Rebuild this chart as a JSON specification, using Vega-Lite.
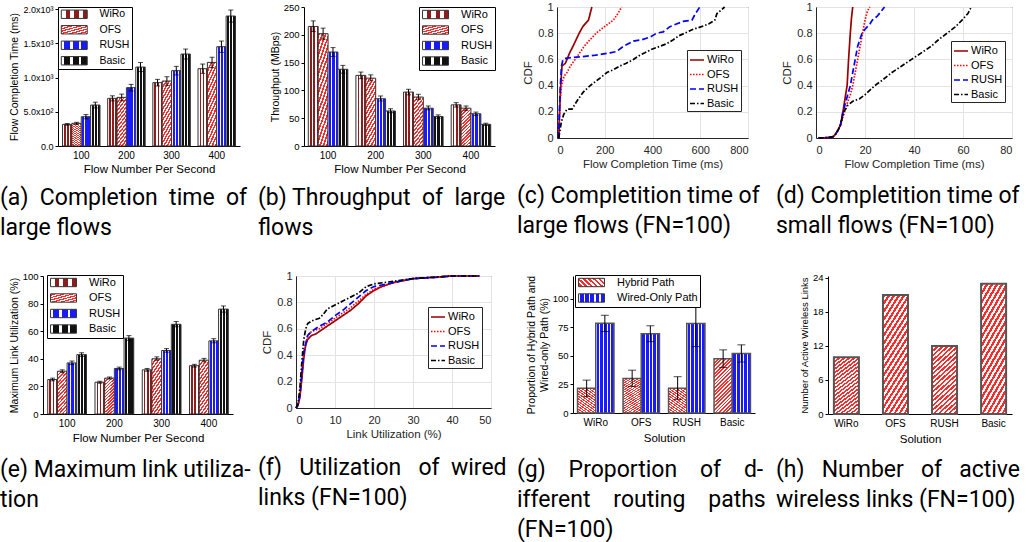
{
"$schema": "https://vega.github.io/schema/vega-lite/v6.json",
"padding": 0,
"config": {
  "view": {"stroke": null},
  "font": "Liberation Sans",
  "axis": {"labelFont": "Liberation Sans", "titleFont": "Liberation Sans", "labelColor": "#000", "titleColor": "#000", "domainColor": "#000", "tickColor": "#000", "titleFontWeight": "normal", "labelFontSize": 9.5, "titleFontSize": 10.5, "tickSize": 3, "labelPadding": 2, "titlePadding": 3, "grid": false, "labelOverlap": false},
  "legend": {"labelFont": "Liberation Sans", "labelColor": "#000"},
  "title": {"font": "Roboto", "fontSize": 23, "fontWeight": "normal", "color": "#000", "anchor": "start", "frame": "group", "orient": "bottom", "baseline": "top", "lineHeight": 30}
},
"params": [
  {"name": "gW", "value": {"gradient": "linear", "x1": 0, "y1": 0, "x2": 1, "y2": 0, "stops": [
    {"offset": 0, "color": "#ffffff"}, {"offset": 0.17, "color": "#ffffff"}, {"offset": 0.17, "color": "#8b1d1d"}, {"offset": 0.333, "color": "#8b1d1d"},
    {"offset": 0.333, "color": "#ffffff"}, {"offset": 0.5, "color": "#ffffff"}, {"offset": 0.5, "color": "#8b1d1d"}, {"offset": 0.667, "color": "#8b1d1d"},
    {"offset": 0.667, "color": "#ffffff"}, {"offset": 0.833, "color": "#ffffff"}, {"offset": 0.833, "color": "#8b1d1d"}, {"offset": 1, "color": "#8b1d1d"}]}},
  {"name": "gR", "value": {"gradient": "linear", "x1": 0, "y1": 0, "x2": 1, "y2": 0, "stops": [
    {"offset": 0, "color": "#ffffff"}, {"offset": 0.1, "color": "#ffffff"}, {"offset": 0.1, "color": "#1a1aff"}, {"offset": 0.333, "color": "#1a1aff"},
    {"offset": 0.333, "color": "#ffffff"}, {"offset": 0.433, "color": "#ffffff"}, {"offset": 0.433, "color": "#1a1aff"}, {"offset": 0.667, "color": "#1a1aff"},
    {"offset": 0.667, "color": "#ffffff"}, {"offset": 0.767, "color": "#ffffff"}, {"offset": 0.767, "color": "#1a1aff"}, {"offset": 1, "color": "#1a1aff"}]}},
  {"name": "gB", "value": {"gradient": "linear", "x1": 0, "y1": 0, "x2": 1, "y2": 0, "stops": [
    {"offset": 0, "color": "#ffffff"}, {"offset": 0.1, "color": "#ffffff"}, {"offset": 0.1, "color": "#111111"}, {"offset": 0.333, "color": "#111111"},
    {"offset": 0.333, "color": "#ffffff"}, {"offset": 0.433, "color": "#ffffff"}, {"offset": 0.433, "color": "#111111"}, {"offset": 0.667, "color": "#111111"},
    {"offset": 0.667, "color": "#ffffff"}, {"offset": 0.767, "color": "#ffffff"}, {"offset": 0.767, "color": "#111111"}, {"offset": 1, "color": "#111111"}]}},
  {"name": "gR2", "value": {"gradient": "linear", "x1": 0, "y1": 0, "x2": 1, "y2": 0, "stops": [
    {"offset": 0, "color": "#ffffff"}, {"offset": 0.06, "color": "#ffffff"}, {"offset": 0.06, "color": "#1a1aff"}, {"offset": 0.2, "color": "#1a1aff"},
    {"offset": 0.2, "color": "#ffffff"}, {"offset": 0.26, "color": "#ffffff"}, {"offset": 0.26, "color": "#1a1aff"}, {"offset": 0.4, "color": "#1a1aff"},
    {"offset": 0.4, "color": "#ffffff"}, {"offset": 0.46, "color": "#ffffff"}, {"offset": 0.46, "color": "#1a1aff"}, {"offset": 0.6, "color": "#1a1aff"},
    {"offset": 0.6, "color": "#ffffff"}, {"offset": 0.66, "color": "#ffffff"}, {"offset": 0.66, "color": "#1a1aff"}, {"offset": 0.8, "color": "#1a1aff"},
    {"offset": 0.8, "color": "#ffffff"}, {"offset": 0.86, "color": "#ffffff"}, {"offset": 0.86, "color": "#1a1aff"}, {"offset": 1, "color": "#1a1aff"}]}},
  {"name": "gO", "value": {"gradient": "linear", "x1": 0, "y1": 0, "x2": 1, "y2": 4, "stops": [
    {"offset": 0, "color": "#ff2a2a"}, {"offset": 0.01, "color": "#ff2a2a"}, {"offset": 0.01, "color": "#ffffff"}, {"offset": 0.02, "color": "#ffffff"},
    {"offset": 0.02, "color": "#ff2a2a"}, {"offset": 0.03, "color": "#ff2a2a"}, {"offset": 0.03, "color": "#ffffff"}, {"offset": 0.04, "color": "#ffffff"},
    {"offset": 0.04, "color": "#ff2a2a"}, {"offset": 0.05, "color": "#ff2a2a"}, {"offset": 0.05, "color": "#ffffff"}, {"offset": 0.06, "color": "#ffffff"},
    {"offset": 0.06, "color": "#ff2a2a"}, {"offset": 0.07, "color": "#ff2a2a"}, {"offset": 0.07, "color": "#ffffff"}, {"offset": 0.08, "color": "#ffffff"},
    {"offset": 0.08, "color": "#ff2a2a"}, {"offset": 0.09, "color": "#ff2a2a"}, {"offset": 0.09, "color": "#ffffff"}, {"offset": 0.1, "color": "#ffffff"},
    {"offset": 0.1, "color": "#ff2a2a"}, {"offset": 0.11, "color": "#ff2a2a"}, {"offset": 0.11, "color": "#ffffff"}, {"offset": 0.12, "color": "#ffffff"},
    {"offset": 0.12, "color": "#ff2a2a"}, {"offset": 0.13, "color": "#ff2a2a"}, {"offset": 0.13, "color": "#ffffff"}, {"offset": 0.14, "color": "#ffffff"},
    {"offset": 0.14, "color": "#ff2a2a"}, {"offset": 0.15, "color": "#ff2a2a"}, {"offset": 0.15, "color": "#ffffff"}, {"offset": 0.16, "color": "#ffffff"},
    {"offset": 0.16, "color": "#ff2a2a"}, {"offset": 0.17, "color": "#ff2a2a"}, {"offset": 0.17, "color": "#ffffff"}, {"offset": 0.18, "color": "#ffffff"},
    {"offset": 0.18, "color": "#ff2a2a"}, {"offset": 0.19, "color": "#ff2a2a"}, {"offset": 0.19, "color": "#ffffff"}, {"offset": 0.2, "color": "#ffffff"},
    {"offset": 0.2, "color": "#ff2a2a"}, {"offset": 0.21, "color": "#ff2a2a"}, {"offset": 0.21, "color": "#ffffff"}, {"offset": 0.22, "color": "#ffffff"},
    {"offset": 0.22, "color": "#ff2a2a"}, {"offset": 0.23, "color": "#ff2a2a"}, {"offset": 0.23, "color": "#ffffff"}, {"offset": 0.24, "color": "#ffffff"},
    {"offset": 0.24, "color": "#ff2a2a"}, {"offset": 0.25, "color": "#ff2a2a"}, {"offset": 0.25, "color": "#ffffff"}, {"offset": 0.26, "color": "#ffffff"},
    {"offset": 0.26, "color": "#ff2a2a"}, {"offset": 0.27, "color": "#ff2a2a"}, {"offset": 0.27, "color": "#ffffff"}, {"offset": 0.28, "color": "#ffffff"},
    {"offset": 0.28, "color": "#ff2a2a"}, {"offset": 0.29, "color": "#ff2a2a"}, {"offset": 0.29, "color": "#ffffff"}, {"offset": 0.3, "color": "#ffffff"}]}},
  {"name": "gO2", "value": {"gradient": "linear", "x1": 0, "y1": 0, "x2": 1, "y2": 3, "stops": [
    {"offset": 0, "color": "#ff2a2a"}, {"offset": 0.01, "color": "#ff2a2a"}, {"offset": 0.01, "color": "#ffffff"}, {"offset": 0.02, "color": "#ffffff"},
    {"offset": 0.02, "color": "#ff2a2a"}, {"offset": 0.03, "color": "#ff2a2a"}, {"offset": 0.03, "color": "#ffffff"}, {"offset": 0.04, "color": "#ffffff"},
    {"offset": 0.04, "color": "#ff2a2a"}, {"offset": 0.05, "color": "#ff2a2a"}, {"offset": 0.05, "color": "#ffffff"}, {"offset": 0.06, "color": "#ffffff"},
    {"offset": 0.06, "color": "#ff2a2a"}, {"offset": 0.07, "color": "#ff2a2a"}, {"offset": 0.07, "color": "#ffffff"}, {"offset": 0.08, "color": "#ffffff"},
    {"offset": 0.08, "color": "#ff2a2a"}, {"offset": 0.09, "color": "#ff2a2a"}, {"offset": 0.09, "color": "#ffffff"}, {"offset": 0.1, "color": "#ffffff"},
    {"offset": 0.1, "color": "#ff2a2a"}, {"offset": 0.11, "color": "#ff2a2a"}, {"offset": 0.11, "color": "#ffffff"}, {"offset": 0.12, "color": "#ffffff"},
    {"offset": 0.12, "color": "#ff2a2a"}, {"offset": 0.13, "color": "#ff2a2a"}, {"offset": 0.13, "color": "#ffffff"}, {"offset": 0.14, "color": "#ffffff"},
    {"offset": 0.14, "color": "#ff2a2a"}, {"offset": 0.15, "color": "#ff2a2a"}, {"offset": 0.15, "color": "#ffffff"}, {"offset": 0.16, "color": "#ffffff"},
    {"offset": 0.16, "color": "#ff2a2a"}, {"offset": 0.17, "color": "#ff2a2a"}, {"offset": 0.17, "color": "#ffffff"}, {"offset": 0.18, "color": "#ffffff"},
    {"offset": 0.18, "color": "#ff2a2a"}, {"offset": 0.19, "color": "#ff2a2a"}, {"offset": 0.19, "color": "#ffffff"}, {"offset": 0.2, "color": "#ffffff"},
    {"offset": 0.2, "color": "#ff2a2a"}, {"offset": 0.21, "color": "#ff2a2a"}, {"offset": 0.21, "color": "#ffffff"}, {"offset": 0.22, "color": "#ffffff"},
    {"offset": 0.22, "color": "#ff2a2a"}, {"offset": 0.23, "color": "#ff2a2a"}, {"offset": 0.23, "color": "#ffffff"}, {"offset": 0.24, "color": "#ffffff"},
    {"offset": 0.24, "color": "#ff2a2a"}, {"offset": 0.25, "color": "#ff2a2a"}, {"offset": 0.25, "color": "#ffffff"}, {"offset": 0.26, "color": "#ffffff"},
    {"offset": 0.26, "color": "#ff2a2a"}, {"offset": 0.27, "color": "#ff2a2a"}, {"offset": 0.27, "color": "#ffffff"}, {"offset": 0.28, "color": "#ffffff"},
    {"offset": 0.28, "color": "#ff2a2a"}, {"offset": 0.29, "color": "#ff2a2a"}, {"offset": 0.29, "color": "#ffffff"}, {"offset": 0.3, "color": "#ffffff"},
    {"offset": 0.3, "color": "#ff2a2a"}, {"offset": 0.31, "color": "#ff2a2a"}, {"offset": 0.31, "color": "#ffffff"}, {"offset": 0.32, "color": "#ffffff"},
    {"offset": 0.32, "color": "#ff2a2a"}, {"offset": 0.33, "color": "#ff2a2a"}, {"offset": 0.33, "color": "#ffffff"}, {"offset": 0.34, "color": "#ffffff"},
    {"offset": 0.34, "color": "#ff2a2a"}, {"offset": 0.35, "color": "#ff2a2a"}, {"offset": 0.35, "color": "#ffffff"}, {"offset": 0.36, "color": "#ffffff"},
    {"offset": 0.36, "color": "#ff2a2a"}, {"offset": 0.37, "color": "#ff2a2a"}, {"offset": 0.37, "color": "#ffffff"}, {"offset": 0.38, "color": "#ffffff"},
    {"offset": 0.38, "color": "#ff2a2a"}, {"offset": 0.39, "color": "#ff2a2a"}, {"offset": 0.39, "color": "#ffffff"}, {"offset": 0.4, "color": "#ffffff"}]}}
],
"datasets": {
  "fct": [
    {"g": "100", "s": "WiRo", "v": 316, "lo": 304, "hi": 328}, {"g": "100", "s": "OFS", "v": 331, "lo": 316, "hi": 346}, {"g": "100", "s": "RUSH", "v": 428, "lo": 397, "hi": 459}, {"g": "100", "s": "Basic", "v": 598, "lo": 555, "hi": 640},
    {"g": "200", "s": "WiRo", "v": 696, "lo": 659, "hi": 733}, {"g": "200", "s": "OFS", "v": 710, "lo": 662, "hi": 758}, {"g": "200", "s": "RUSH", "v": 852, "lo": 804, "hi": 900}, {"g": "200", "s": "Basic", "v": 1153, "lo": 1087, "hi": 1219},
    {"g": "300", "s": "WiRo", "v": 925, "lo": 877, "hi": 973}, {"g": "300", "s": "OFS", "v": 949, "lo": 886, "hi": 1012}, {"g": "300", "s": "RUSH", "v": 1100, "lo": 1037, "hi": 1163}, {"g": "300", "s": "Basic", "v": 1343, "lo": 1270, "hi": 1416},
    {"g": "400", "s": "WiRo", "v": 1129, "lo": 1061, "hi": 1197}, {"g": "400", "s": "OFS", "v": 1221, "lo": 1146, "hi": 1296}, {"g": "400", "s": "RUSH", "v": 1450, "lo": 1367, "hi": 1533}, {"g": "400", "s": "Basic", "v": 1898, "lo": 1810, "hi": 1986}
  ],
  "thr": [
    {"g": "100", "s": "WiRo", "v": 215, "lo": 206, "hi": 225}, {"g": "100", "s": "OFS", "v": 202, "lo": 192, "hi": 212}, {"g": "100", "s": "RUSH", "v": 169, "lo": 161, "hi": 177}, {"g": "100", "s": "Basic", "v": 138, "lo": 131, "hi": 145},
    {"g": "200", "s": "WiRo", "v": 127, "lo": 121, "hi": 133}, {"g": "200", "s": "OFS", "v": 122, "lo": 117, "hi": 128}, {"g": "200", "s": "RUSH", "v": 85, "lo": 81, "hi": 90}, {"g": "200", "s": "Basic", "v": 63, "lo": 60, "hi": 67},
    {"g": "300", "s": "WiRo", "v": 97, "lo": 92, "hi": 102}, {"g": "300", "s": "OFS", "v": 88, "lo": 84, "hi": 93}, {"g": "300", "s": "RUSH", "v": 68, "lo": 65, "hi": 72}, {"g": "300", "s": "Basic", "v": 53, "lo": 50, "hi": 56},
    {"g": "400", "s": "WiRo", "v": 74, "lo": 70, "hi": 78}, {"g": "400", "s": "OFS", "v": 68, "lo": 64, "hi": 72}, {"g": "400", "s": "RUSH", "v": 58, "lo": 55, "hi": 61}, {"g": "400", "s": "Basic", "v": 39, "lo": 37, "hi": 41}
  ],
  "mlu": [
    {"g": "100", "s": "WiRo", "v": 25, "lo": 24, "hi": 26}, {"g": "100", "s": "OFS", "v": 31, "lo": 30, "hi": 32}, {"g": "100", "s": "RUSH", "v": 37, "lo": 35.8, "hi": 38.4}, {"g": "100", "s": "Basic", "v": 43, "lo": 41.8, "hi": 44.4},
    {"g": "200", "s": "WiRo", "v": 23, "lo": 22.3, "hi": 23.7}, {"g": "200", "s": "OFS", "v": 26, "lo": 25.3, "hi": 26.8}, {"g": "200", "s": "RUSH", "v": 33, "lo": 32, "hi": 34}, {"g": "200", "s": "Basic", "v": 55, "lo": 53.4, "hi": 56.8},
    {"g": "300", "s": "WiRo", "v": 32, "lo": 31, "hi": 33}, {"g": "300", "s": "OFS", "v": 40, "lo": 39, "hi": 41.4}, {"g": "300", "s": "RUSH", "v": 46, "lo": 44.8, "hi": 47.4}, {"g": "300", "s": "Basic", "v": 65, "lo": 63.2, "hi": 67},
    {"g": "400", "s": "WiRo", "v": 35, "lo": 34, "hi": 36}, {"g": "400", "s": "OFS", "v": 39, "lo": 37.8, "hi": 40.3}, {"g": "400", "s": "RUSH", "v": 53, "lo": 51.6, "hi": 54.6}, {"g": "400", "s": "Basic", "v": 76, "lo": 73.8, "hi": 78.3}
  ],
  "prop": [
    {"sol": "WiRo", "t": "Hybrid Path", "v": 21.6, "lo": 14.4, "hi": 28.8}, {"sol": "WiRo", "t": "Wired-Only Path", "v": 78.7, "lo": 71.4, "hi": 85.6},
    {"sol": "OFS", "t": "Hybrid Path", "v": 30.3, "lo": 23.2, "hi": 37.5}, {"sol": "OFS", "t": "Wired-Only Path", "v": 69.5, "lo": 62.5, "hi": 76.4},
    {"sol": "RUSH", "t": "Hybrid Path", "v": 21.6, "lo": 11.9, "hi": 31.8}, {"sol": "RUSH", "t": "Wired-Only Path", "v": 78.4, "lo": 58.2, "hi": 98.6},
    {"sol": "Basic", "t": "Hybrid Path", "v": 47.6, "lo": 39.8, "hi": 55.3}, {"sol": "Basic", "t": "Wired-Only Path", "v": 52.2, "lo": 44.6, "hi": 59.7}
  ],
  "links": [
    {"sol": "WiRo", "v": 10}, {"sol": "OFS", "v": 21}, {"sol": "RUSH", "v": 12}, {"sol": "Basic", "v": 23}
  ],
  "cdfL": [
    {"s": "WiRo", "x": 7, "y": 0}, {"s": "WiRo", "x": 9, "y": 0.1}, {"s": "WiRo", "x": 12, "y": 0.25}, {"s": "WiRo", "x": 15, "y": 0.38}, {"s": "WiRo", "x": 18, "y": 0.47}, {"s": "WiRo", "x": 21, "y": 0.55}, {"s": "WiRo", "x": 28, "y": 0.56}, {"s": "WiRo", "x": 35, "y": 0.57}, {"s": "WiRo", "x": 42, "y": 0.6}, {"s": "WiRo", "x": 53, "y": 0.65}, {"s": "WiRo", "x": 67, "y": 0.7}, {"s": "WiRo", "x": 80, "y": 0.75}, {"s": "WiRo", "x": 93, "y": 0.8}, {"s": "WiRo", "x": 108, "y": 0.85}, {"s": "WiRo", "x": 122, "y": 0.88}, {"s": "WiRo", "x": 132, "y": 0.9}, {"s": "WiRo", "x": 139, "y": 0.95}, {"s": "WiRo", "x": 146, "y": 1},
    {"s": "OFS", "x": 7, "y": 0}, {"s": "OFS", "x": 10, "y": 0.15}, {"s": "OFS", "x": 14, "y": 0.3}, {"s": "OFS", "x": 19, "y": 0.4}, {"s": "OFS", "x": 25, "y": 0.45}, {"s": "OFS", "x": 33, "y": 0.48}, {"s": "OFS", "x": 42, "y": 0.5}, {"s": "OFS", "x": 56, "y": 0.55}, {"s": "OFS", "x": 76, "y": 0.6}, {"s": "OFS", "x": 95, "y": 0.65}, {"s": "OFS", "x": 114, "y": 0.7}, {"s": "OFS", "x": 138, "y": 0.75}, {"s": "OFS", "x": 164, "y": 0.8}, {"s": "OFS", "x": 199, "y": 0.85}, {"s": "OFS", "x": 236, "y": 0.9}, {"s": "OFS", "x": 255, "y": 0.95}, {"s": "OFS", "x": 271, "y": 1},
    {"s": "RUSH", "x": 7, "y": 0}, {"s": "RUSH", "x": 10, "y": 0.2}, {"s": "RUSH", "x": 14, "y": 0.4}, {"s": "RUSH", "x": 19, "y": 0.55}, {"s": "RUSH", "x": 25, "y": 0.6}, {"s": "RUSH", "x": 40, "y": 0.61}, {"s": "RUSH", "x": 100, "y": 0.62}, {"s": "RUSH", "x": 153, "y": 0.63}, {"s": "RUSH", "x": 222, "y": 0.65}, {"s": "RUSH", "x": 250, "y": 0.66}, {"s": "RUSH", "x": 278, "y": 0.7}, {"s": "RUSH", "x": 320, "y": 0.74}, {"s": "RUSH", "x": 355, "y": 0.75}, {"s": "RUSH", "x": 390, "y": 0.77}, {"s": "RUSH", "x": 417, "y": 0.8}, {"s": "RUSH", "x": 445, "y": 0.81}, {"s": "RUSH", "x": 473, "y": 0.85}, {"s": "RUSH", "x": 500, "y": 0.87}, {"s": "RUSH", "x": 528, "y": 0.89}, {"s": "RUSH", "x": 565, "y": 0.9}, {"s": "RUSH", "x": 580, "y": 0.95}, {"s": "RUSH", "x": 598, "y": 1},
    {"s": "Basic", "x": 7, "y": 0}, {"s": "Basic", "x": 12, "y": 0.05}, {"s": "Basic", "x": 18, "y": 0.12}, {"s": "Basic", "x": 28, "y": 0.18}, {"s": "Basic", "x": 35, "y": 0.2}, {"s": "Basic", "x": 42, "y": 0.22}, {"s": "Basic", "x": 63, "y": 0.22}, {"s": "Basic", "x": 76, "y": 0.26}, {"s": "Basic", "x": 90, "y": 0.3}, {"s": "Basic", "x": 110, "y": 0.35}, {"s": "Basic", "x": 139, "y": 0.4}, {"s": "Basic", "x": 175, "y": 0.45}, {"s": "Basic", "x": 209, "y": 0.5}, {"s": "Basic", "x": 235, "y": 0.52}, {"s": "Basic", "x": 264, "y": 0.55}, {"s": "Basic", "x": 290, "y": 0.57}, {"s": "Basic", "x": 320, "y": 0.6}, {"s": "Basic", "x": 345, "y": 0.63}, {"s": "Basic", "x": 368, "y": 0.65}, {"s": "Basic", "x": 400, "y": 0.68}, {"s": "Basic", "x": 431, "y": 0.7}, {"s": "Basic", "x": 460, "y": 0.72}, {"s": "Basic", "x": 487, "y": 0.75}, {"s": "Basic", "x": 510, "y": 0.78}, {"s": "Basic", "x": 535, "y": 0.8}, {"s": "Basic", "x": 570, "y": 0.83}, {"s": "Basic", "x": 605, "y": 0.85}, {"s": "Basic", "x": 635, "y": 0.87}, {"s": "Basic", "x": 661, "y": 0.9}, {"s": "Basic", "x": 670, "y": 0.95}, {"s": "Basic", "x": 690, "y": 0.98}, {"s": "Basic", "x": 702, "y": 1}
  ],
  "cdfS": [
    {"s": "WiRo", "x": 1, "y": 0}, {"s": "WiRo", "x": 5, "y": 0.003}, {"s": "WiRo", "x": 7, "y": 0.01}, {"s": "WiRo", "x": 8, "y": 0.03}, {"s": "WiRo", "x": 9, "y": 0.06}, {"s": "WiRo", "x": 10, "y": 0.1}, {"s": "WiRo", "x": 11, "y": 0.2}, {"s": "WiRo", "x": 12, "y": 0.32}, {"s": "WiRo", "x": 12.7, "y": 0.4}, {"s": "WiRo", "x": 13.3, "y": 0.6}, {"s": "WiRo", "x": 14, "y": 0.8}, {"s": "WiRo", "x": 14.5, "y": 0.92}, {"s": "WiRo", "x": 15, "y": 1},
    {"s": "OFS", "x": 1, "y": 0}, {"s": "OFS", "x": 5, "y": 0.003}, {"s": "OFS", "x": 7, "y": 0.01}, {"s": "OFS", "x": 8, "y": 0.03}, {"s": "OFS", "x": 9, "y": 0.06}, {"s": "OFS", "x": 10, "y": 0.1}, {"s": "OFS", "x": 11.7, "y": 0.2}, {"s": "OFS", "x": 13, "y": 0.28}, {"s": "OFS", "x": 14, "y": 0.33}, {"s": "OFS", "x": 15, "y": 0.4}, {"s": "OFS", "x": 16, "y": 0.5}, {"s": "OFS", "x": 17, "y": 0.6}, {"s": "OFS", "x": 18, "y": 0.7}, {"s": "OFS", "x": 19, "y": 0.8}, {"s": "OFS", "x": 20, "y": 0.9}, {"s": "OFS", "x": 21, "y": 0.97}, {"s": "OFS", "x": 22, "y": 1},
    {"s": "RUSH", "x": 1, "y": 0}, {"s": "RUSH", "x": 5, "y": 0.003}, {"s": "RUSH", "x": 7, "y": 0.01}, {"s": "RUSH", "x": 8, "y": 0.03}, {"s": "RUSH", "x": 9, "y": 0.06}, {"s": "RUSH", "x": 10, "y": 0.1}, {"s": "RUSH", "x": 11, "y": 0.2}, {"s": "RUSH", "x": 12.5, "y": 0.3}, {"s": "RUSH", "x": 14, "y": 0.4}, {"s": "RUSH", "x": 15, "y": 0.5}, {"s": "RUSH", "x": 16, "y": 0.6}, {"s": "RUSH", "x": 17, "y": 0.7}, {"s": "RUSH", "x": 18.8, "y": 0.8}, {"s": "RUSH", "x": 20, "y": 0.83}, {"s": "RUSH", "x": 22, "y": 0.87}, {"s": "RUSH", "x": 23, "y": 0.9}, {"s": "RUSH", "x": 25, "y": 0.93}, {"s": "RUSH", "x": 28, "y": 1},
    {"s": "Basic", "x": 1, "y": 0}, {"s": "Basic", "x": 5, "y": 0.003}, {"s": "Basic", "x": 7, "y": 0.01}, {"s": "Basic", "x": 8, "y": 0.03}, {"s": "Basic", "x": 9, "y": 0.06}, {"s": "Basic", "x": 10, "y": 0.1}, {"s": "Basic", "x": 11.3, "y": 0.2}, {"s": "Basic", "x": 12, "y": 0.22}, {"s": "Basic", "x": 13, "y": 0.25}, {"s": "Basic", "x": 15, "y": 0.28}, {"s": "Basic", "x": 17.8, "y": 0.3}, {"s": "Basic", "x": 20, "y": 0.33}, {"s": "Basic", "x": 24, "y": 0.4}, {"s": "Basic", "x": 27, "y": 0.44}, {"s": "Basic", "x": 31, "y": 0.5}, {"s": "Basic", "x": 35, "y": 0.55}, {"s": "Basic", "x": 39, "y": 0.6}, {"s": "Basic", "x": 43, "y": 0.65}, {"s": "Basic", "x": 47, "y": 0.7}, {"s": "Basic", "x": 50, "y": 0.75}, {"s": "Basic", "x": 53.5, "y": 0.8}, {"s": "Basic", "x": 57, "y": 0.85}, {"s": "Basic", "x": 59.6, "y": 0.9}, {"s": "Basic", "x": 62, "y": 0.95}, {"s": "Basic", "x": 63.4, "y": 1}
  ],
  "util": [
    {"s": "WiRo", "x": 0, "y": 0}, {"s": "WiRo", "x": 0.5, "y": 0.02}, {"s": "WiRo", "x": 1, "y": 0.08}, {"s": "WiRo", "x": 1.5, "y": 0.22}, {"s": "WiRo", "x": 2, "y": 0.38}, {"s": "WiRo", "x": 2.5, "y": 0.48}, {"s": "WiRo", "x": 3, "y": 0.52}, {"s": "WiRo", "x": 4, "y": 0.55}, {"s": "WiRo", "x": 5, "y": 0.56}, {"s": "WiRo", "x": 6, "y": 0.58}, {"s": "WiRo", "x": 8, "y": 0.62}, {"s": "WiRo", "x": 10, "y": 0.66}, {"s": "WiRo", "x": 12, "y": 0.7}, {"s": "WiRo", "x": 14, "y": 0.74}, {"s": "WiRo", "x": 16, "y": 0.79}, {"s": "WiRo", "x": 18, "y": 0.85}, {"s": "WiRo", "x": 20, "y": 0.89}, {"s": "WiRo", "x": 22, "y": 0.92}, {"s": "WiRo", "x": 25, "y": 0.95}, {"s": "WiRo", "x": 30, "y": 0.98}, {"s": "WiRo", "x": 35, "y": 0.99}, {"s": "WiRo", "x": 40, "y": 1}, {"s": "WiRo", "x": 47, "y": 1},
    {"s": "OFS", "x": 0, "y": 0}, {"s": "OFS", "x": 0.5, "y": 0.02}, {"s": "OFS", "x": 1, "y": 0.1}, {"s": "OFS", "x": 2, "y": 0.42}, {"s": "OFS", "x": 3, "y": 0.55}, {"s": "OFS", "x": 4, "y": 0.58}, {"s": "OFS", "x": 5, "y": 0.59}, {"s": "OFS", "x": 6, "y": 0.6}, {"s": "OFS", "x": 8, "y": 0.64}, {"s": "OFS", "x": 10, "y": 0.68}, {"s": "OFS", "x": 12, "y": 0.72}, {"s": "OFS", "x": 14, "y": 0.76}, {"s": "OFS", "x": 16, "y": 0.81}, {"s": "OFS", "x": 18, "y": 0.86}, {"s": "OFS", "x": 20, "y": 0.9}, {"s": "OFS", "x": 25, "y": 0.95}, {"s": "OFS", "x": 30, "y": 0.98}, {"s": "OFS", "x": 35, "y": 0.99}, {"s": "OFS", "x": 40, "y": 1}, {"s": "OFS", "x": 47, "y": 1},
    {"s": "RUSH", "x": 0, "y": 0}, {"s": "RUSH", "x": 0.5, "y": 0.02}, {"s": "RUSH", "x": 1, "y": 0.1}, {"s": "RUSH", "x": 2, "y": 0.42}, {"s": "RUSH", "x": 3, "y": 0.55}, {"s": "RUSH", "x": 4, "y": 0.58}, {"s": "RUSH", "x": 5, "y": 0.6}, {"s": "RUSH", "x": 6, "y": 0.62}, {"s": "RUSH", "x": 8, "y": 0.65}, {"s": "RUSH", "x": 10, "y": 0.7}, {"s": "RUSH", "x": 12, "y": 0.74}, {"s": "RUSH", "x": 14, "y": 0.79}, {"s": "RUSH", "x": 16, "y": 0.84}, {"s": "RUSH", "x": 18, "y": 0.89}, {"s": "RUSH", "x": 20, "y": 0.92}, {"s": "RUSH", "x": 25, "y": 0.95}, {"s": "RUSH", "x": 30, "y": 0.98}, {"s": "RUSH", "x": 36, "y": 0.99}, {"s": "RUSH", "x": 40, "y": 1}, {"s": "RUSH", "x": 47, "y": 1},
    {"s": "Basic", "x": 0, "y": 0}, {"s": "Basic", "x": 0.5, "y": 0.03}, {"s": "Basic", "x": 1, "y": 0.15}, {"s": "Basic", "x": 1.5, "y": 0.35}, {"s": "Basic", "x": 2, "y": 0.52}, {"s": "Basic", "x": 2.5, "y": 0.6}, {"s": "Basic", "x": 3, "y": 0.64}, {"s": "Basic", "x": 4, "y": 0.66}, {"s": "Basic", "x": 5, "y": 0.67}, {"s": "Basic", "x": 6, "y": 0.68}, {"s": "Basic", "x": 7, "y": 0.71}, {"s": "Basic", "x": 8, "y": 0.75}, {"s": "Basic", "x": 10, "y": 0.78}, {"s": "Basic", "x": 12, "y": 0.81}, {"s": "Basic", "x": 14, "y": 0.84}, {"s": "Basic", "x": 16, "y": 0.87}, {"s": "Basic", "x": 18, "y": 0.92}, {"s": "Basic", "x": 20, "y": 0.94}, {"s": "Basic", "x": 25, "y": 0.96}, {"s": "Basic", "x": 30, "y": 0.98}, {"s": "Basic", "x": 35, "y": 0.99}, {"s": "Basic", "x": 40, "y": 1}, {"s": "Basic", "x": 47, "y": 1}
  ]
},
"spacing": 29,
"resolve": {"scale": {"color": "independent", "strokeDash": "independent", "xOffset": "independent", "x": "independent", "y": "independent"}, "legend": {"color": "independent", "strokeDash": "independent"}},
"vconcat": [
 {
  "bounds": "flush",
  "spacing": 0,
  "resolve": {"scale": {"color": "independent", "strokeDash": "independent", "xOffset": "independent", "x": "independent", "y": "independent"}, "legend": {"color": "independent", "strokeDash": "independent"}},
  "hconcat": [
  {"width": 15, "height": 1, "data": {"values": []}, "mark": {"type": "point", "opacity": 0}},
  {
    "width": 182, "height": 139,
    "data": {"name": "fct"},
    "title": {"text": ["(a)\u00a0 Completion\u00a0 time\u00a0 of", "large flows"], "dx": -58, "offset": 12},
    "encoding": {
      "x": {"field": "g", "type": "nominal", "title": "Flow Number Per Second", "scale": {"paddingInner": 0.17, "paddingOuter": 0.1}, "axis": {"labelAngle": 0, "ticks": false, "tickSize": 0, "labelPadding": 4, "labelFontSize": 10, "titleFontSize": 11.5, "titlePadding": 3}},
      "xOffset": {"field": "s", "type": "nominal", "sort": ["WiRo", "OFS", "RUSH", "Basic"]}
    },
    "layer": [
      {"mark": {"type": "bar", "stroke": "#333", "strokeWidth": 1},
       "encoding": {
         "y": {"field": "v", "type": "quantitative", "title": "Flow Completion Time (ms)", "scale": {"domain": [0, 2030], "nice": false}, "axis": {"values": [0, 500, 1000, 1500, 2000], "labelOverlap": false, "labelExpr": "datum.value == 0 ? '0.0' : datum.value < 1000 ? format(datum.value / 100, '.1f') + 'x10²' : format(datum.value / 1000, '.1f') + 'x10³'", "labelFontSize": 9}},
         "color": {"field": "s", "type": "nominal", "scale": {"domain": ["WiRo", "OFS", "RUSH", "Basic"], "range": [{"expr": "gW"}, {"expr": "gO"}, {"expr": "gR"}, {"expr": "gB"}]},
           "legend": {"title": null, "orient": "top-left", "offset": 0, "padding": 2, "strokeColor": "#000", "fillColor": "#fff", "symbolType": "M-3.1,-1H3.1V1H-3.1Z", "symbolSize": 70, "symbolOffset": 9, "labelOffset": 20, "labelFontSize": 10.5, "symbolStrokeColor": "#333", "symbolStrokeWidth": 1, "rowPadding": 2.5, "symbolOpacity": 1}}
       }},
      {"mark": {"type": "rule", "color": "#000", "strokeWidth": 1}, "encoding": {"y": {"field": "lo", "type": "quantitative", "title": "Flow Completion Time (ms)", "axis": {"values": [0, 500, 1000, 1500, 2000], "labelOverlap": false, "labelExpr": "datum.value == 0 ? '0.0' : datum.value < 1000 ? format(datum.value / 100, '.1f') + 'x10²' : format(datum.value / 1000, '.1f') + 'x10³'", "labelFontSize": 9}}, "y2": {"field": "hi"}}},
      {"mark": {"type": "tick", "color": "#000", "thickness": 1, "size": 5}, "encoding": {"y": {"field": "lo", "type": "quantitative", "title": "Flow Completion Time (ms)", "axis": {"values": [0, 500, 1000, 1500, 2000], "labelOverlap": false, "labelExpr": "datum.value == 0 ? '0.0' : datum.value < 1000 ? format(datum.value / 100, '.1f') + 'x10²' : format(datum.value / 1000, '.1f') + 'x10³'", "labelFontSize": 9}}}},
      {"mark": {"type": "tick", "color": "#000", "thickness": 1, "size": 5}, "encoding": {"y": {"field": "hi", "type": "quantitative", "title": "Flow Completion Time (ms)", "axis": {"values": [0, 500, 1000, 1500, 2000], "labelOverlap": false, "labelExpr": "datum.value == 0 ? '0.0' : datum.value < 1000 ? format(datum.value / 100, '.1f') + 'x10²' : format(datum.value / 1000, '.1f') + 'x10³'", "labelFontSize": 9}}}}
    ]
  },
  {"width": 64, "height": 1, "data": {"values": []}, "mark": {"type": "point", "opacity": 0}},
  {
    "width": 191, "height": 139,
    "data": {"name": "thr"},
    "title": {"text": ["(b) Throughput\u00a0 of\u00a0 large", "flows"], "dx": -46, "offset": 12},
    "encoding": {
      "x": {"field": "g", "type": "nominal", "title": "Flow Number Per Second", "scale": {"paddingInner": 0.17, "paddingOuter": 0.09}, "axis": {"labelAngle": 0, "ticks": false, "tickSize": 0, "labelPadding": 4, "labelFontSize": 10, "titleFontSize": 11.5, "titlePadding": 3}},
      "xOffset": {"field": "s", "type": "nominal", "sort": ["WiRo", "OFS", "RUSH", "Basic"]}
    },
    "layer": [
      {"mark": {"type": "bar", "stroke": "#333", "strokeWidth": 1},
       "encoding": {
         "y": {"field": "v", "type": "quantitative", "title": "Throughput (MBps)", "scale": {"domain": [0, 250], "nice": false}, "axis": {"values": [0, 50, 100, 150, 200, 250], "labelOverlap": false}},
         "color": {"field": "s", "type": "nominal", "scale": {"domain": ["WiRo", "OFS", "RUSH", "Basic"], "range": [{"expr": "gW"}, {"expr": "gO"}, {"expr": "gR"}, {"expr": "gB"}]},
           "legend": {"title": null, "orient": "top-right", "offset": 0, "padding": 2, "strokeColor": "#000", "fillColor": "#fff", "symbolType": "M-3.1,-1H3.1V1H-3.1Z", "symbolSize": 70, "symbolOffset": 9, "labelOffset": 20, "labelFontSize": 11, "symbolStrokeColor": "#333", "symbolStrokeWidth": 1, "rowPadding": 2.5, "symbolOpacity": 1}}
       }},
      {"mark": {"type": "rule", "color": "#000", "strokeWidth": 1}, "encoding": {"y": {"field": "lo", "type": "quantitative", "title": "Throughput (MBps)", "axis": {"values": [0, 50, 100, 150, 200, 250], "labelOverlap": false}}, "y2": {"field": "hi"}}},
      {"mark": {"type": "tick", "color": "#000", "thickness": 1, "size": 5}, "encoding": {"y": {"field": "lo", "type": "quantitative", "title": "Throughput (MBps)", "axis": {"values": [0, 50, 100, 150, 200, 250], "labelOverlap": false}}}},
      {"mark": {"type": "tick", "color": "#000", "thickness": 1, "size": 5}, "encoding": {"y": {"field": "hi", "type": "quantitative", "title": "Throughput (MBps)", "axis": {"values": [0, 50, 100, 150, 200, 250], "labelOverlap": false}}}}
    ]
  },
  {"width": 62, "height": 1, "data": {"values": []}, "mark": {"type": "point", "opacity": 0}},
  {
    "width": 191, "height": 131,
    "view": {"stroke": "#262626", "strokeWidth": 1},
    "data": {"name": "cdfL"},
    "title": {"text": ["(c) Completition time of", "large flows (FN=100)"], "dx": -40, "offset": 15},
    "mark": {"type": "line", "strokeWidth": 1.7},
    "encoding": {
      "x": {"field": "x", "type": "quantitative", "title": "Flow Completion Time (ms)", "scale": {"domain": [0, 800], "nice": false}, "axis": {"values": [0, 200, 400, 600, 800], "format": "d", "grid": true, "gridColor": "#e3e3e3", "ticks": false, "tickSize": 0, "labelFontSize": 11, "labelColor": "#262626", "labelPadding": 6, "titleFontSize": 11.5, "titleColor": "#262626", "titlePadding": 3, "domainColor": "#262626"}},
      "y": {"field": "y", "type": "quantitative", "title": "CDF", "scale": {"domain": [0, 1], "nice": false}, "axis": {"values": [0, 0.2, 0.4, 0.6, 0.8, 1], "format": "~g", "grid": true, "gridColor": "#e3e3e3", "ticks": false, "tickSize": 0, "labelFontSize": 11, "labelColor": "#262626", "labelPadding": 4, "titleFontSize": 11.5, "titleColor": "#262626", "titlePadding": 4, "domainColor": "#262626"}},
      "color": {"field": "s", "type": "nominal", "scale": {"domain": ["WiRo", "OFS", "RUSH", "Basic"], "range": ["#990000", "#ff0000", "#0000ff", "#000000"]},
        "legend": {"title": null, "orient": "none", "legendX": 130, "legendY": 43, "padding": 2, "strokeColor": "#262626", "fillColor": "#fff", "symbolType": "stroke", "symbolSize": 196, "symbolStrokeWidth": 1.7, "labelFontSize": 11, "labelOffset": 2, "rowPadding": 1.5}},
      "strokeDash": {"field": "s", "type": "nominal", "scale": {"domain": ["WiRo", "OFS", "RUSH", "Basic"], "range": [[1, 0], [1.5, 1.5], [6, 3], [5, 2, 1.5, 2]]}}
    }
  },
  {"width": 68, "height": 1, "data": {"values": []}, "mark": {"type": "point", "opacity": 0}},
  {
    "width": 196, "height": 131,
    "view": {"stroke": "#262626", "strokeWidth": 1},
    "data": {"name": "cdfS"},
    "title": {"text": ["(d) Completition time of", "small flows (FN=100)"], "dx": -40, "offset": 15},
    "mark": {"type": "line", "strokeWidth": 1.7},
    "encoding": {
      "x": {"field": "x", "type": "quantitative", "title": "Flow Completion Time (ms)", "scale": {"domain": [0, 80], "nice": false}, "axis": {"values": [0, 20, 40, 60, 80], "format": "d", "grid": true, "gridColor": "#e3e3e3", "ticks": false, "tickSize": 0, "labelFontSize": 11, "labelColor": "#262626", "labelPadding": 6, "titleFontSize": 11.5, "titleColor": "#262626", "titlePadding": 3, "domainColor": "#262626"}},
      "y": {"field": "y", "type": "quantitative", "title": "CDF", "scale": {"domain": [0, 1], "nice": false}, "axis": {"values": [0, 0.2, 0.4, 0.6, 0.8, 1], "format": "~g", "grid": true, "gridColor": "#e3e3e3", "ticks": false, "tickSize": 0, "labelFontSize": 11, "labelColor": "#262626", "labelPadding": 4, "titleFontSize": 11.5, "titleColor": "#262626", "titlePadding": 4, "domainColor": "#262626"}},
      "color": {"field": "s", "type": "nominal", "scale": {"domain": ["WiRo", "OFS", "RUSH", "Basic"], "range": ["#990000", "#ff0000", "#0000ff", "#000000"]},
        "legend": {"title": null, "orient": "none", "legendX": 135, "legendY": 34, "padding": 2, "strokeColor": "#262626", "fillColor": "#fff", "symbolType": "stroke", "symbolSize": 196, "symbolStrokeWidth": 1.7, "labelFontSize": 11, "labelOffset": 2, "rowPadding": 1.5}},
      "strokeDash": {"field": "s", "type": "nominal", "scale": {"domain": ["WiRo", "OFS", "RUSH", "Basic"], "range": [[1, 0], [1.5, 1.5], [6, 3], [5, 2, 1.5, 2]]}}
    }
  }
  ]
 },
 {
  "bounds": "flush",
  "spacing": 0,
  "resolve": {"scale": {"color": "independent", "strokeDash": "independent", "xOffset": "independent", "x": "independent", "y": "independent"}, "legend": {"color": "independent", "strokeDash": "independent"}},
  "hconcat": [
  {
    "width": 190, "height": 138,
    "data": {"name": "mlu"},
    "title": {"text": ["(e) Maximum link utiliza-", "tion"], "dx": -43, "offset": 15},
    "encoding": {
      "x": {"field": "g", "type": "nominal", "title": "Flow Number Per Second", "scale": {"paddingInner": 0.18, "paddingOuter": 0.1}, "axis": {"labelAngle": 0, "ticks": false, "tickSize": 0, "labelPadding": 4, "labelFontSize": 10, "titleFontSize": 11.5, "titlePadding": 4}},
      "xOffset": {"field": "s", "type": "nominal", "sort": ["WiRo", "OFS", "RUSH", "Basic"]}
    },
    "layer": [
      {"mark": {"type": "bar", "stroke": "#333", "strokeWidth": 1},
       "encoding": {
         "y": {"field": "v", "type": "quantitative", "title": "Maximum Link Utilization (%)", "scale": {"domain": [0, 100], "nice": false}, "axis": {"values": [0, 20, 40, 60, 80, 100], "labelOverlap": false}},
         "color": {"field": "s", "type": "nominal", "scale": {"domain": ["WiRo", "OFS", "RUSH", "Basic"], "range": [{"expr": "gW"}, {"expr": "gO"}, {"expr": "gR"}, {"expr": "gB"}]},
           "legend": {"title": null, "orient": "none", "legendX": 4, "legendY": -1, "padding": 2, "strokeColor": "#000", "fillColor": "#fff", "symbolType": "M-3.1,-1H3.1V1H-3.1Z", "symbolSize": 70, "symbolOffset": 9, "labelOffset": 20, "labelFontSize": 11, "symbolStrokeColor": "#333", "symbolStrokeWidth": 1, "rowPadding": 2.5, "symbolOpacity": 1}}
       }},
      {"mark": {"type": "rule", "color": "#000", "strokeWidth": 1}, "encoding": {"y": {"field": "lo", "type": "quantitative", "title": "Maximum Link Utilization (%)", "axis": {"values": [0, 20, 40, 60, 80, 100], "labelOverlap": false}}, "y2": {"field": "hi"}}},
      {"mark": {"type": "tick", "color": "#000", "thickness": 1, "size": 5}, "encoding": {"y": {"field": "lo", "type": "quantitative", "title": "Maximum Link Utilization (%)", "axis": {"values": [0, 20, 40, 60, 80, 100], "labelOverlap": false}}}},
      {"mark": {"type": "tick", "color": "#000", "thickness": 1, "size": 5}, "encoding": {"y": {"field": "hi", "type": "quantitative", "title": "Maximum Link Utilization (%)", "axis": {"values": [0, 20, 40, 60, 80, 100], "labelOverlap": false}}}}
    ]
  },
  {"width": 63, "height": 1, "data": {"values": []}, "mark": {"type": "point", "opacity": 0}},
  {
    "width": 195, "height": 132,
    "view": {"stroke": "#262626", "strokeWidth": 1},
    "data": {"name": "util"},
    "title": {"text": ["(f)\u00a0\u00a0 Utilization\u00a0\u00a0 of\u00a0 wired", "links (FN=100)"], "dx": -38, "offset": 17},
    "mark": {"type": "line", "strokeWidth": 1.7},
    "encoding": {
      "x": {"field": "x", "type": "quantitative", "title": "Link Utilization (%)", "scale": {"domain": [0, 50], "nice": false}, "axis": {"values": [0, 10, 20, 30, 40, 50], "format": "d", "grid": true, "gridColor": "#e3e3e3", "ticks": false, "tickSize": 0, "labelFontSize": 11, "labelColor": "#262626", "labelPadding": 6, "titleFontSize": 11.5, "titleColor": "#262626", "titlePadding": 3, "domainColor": "#262626"}},
      "y": {"field": "y", "type": "quantitative", "title": "CDF", "scale": {"domain": [0, 1], "nice": false}, "axis": {"values": [0, 0.2, 0.4, 0.6, 0.8, 1], "format": "~g", "grid": true, "gridColor": "#e3e3e3", "ticks": false, "tickSize": 0, "labelFontSize": 11, "labelColor": "#262626", "labelPadding": 4, "titleFontSize": 11.5, "titleColor": "#262626", "titlePadding": 4, "domainColor": "#262626"}},
      "color": {"field": "s", "type": "nominal", "scale": {"domain": ["WiRo", "OFS", "RUSH", "Basic"], "range": ["#990000", "#ff0000", "#0000ff", "#000000"]},
        "legend": {"title": null, "orient": "none", "legendX": 132, "legendY": 31, "padding": 2, "strokeColor": "#262626", "fillColor": "#fff", "symbolType": "stroke", "symbolSize": 196, "symbolStrokeWidth": 1.7, "labelFontSize": 11, "labelOffset": 2, "rowPadding": 1.5}},
      "strokeDash": {"field": "s", "type": "nominal", "scale": {"domain": ["WiRo", "OFS", "RUSH", "Basic"], "range": [[1, 0], [1.5, 1.5], [6, 3], [5, 2, 1.5, 2]]}}
    }
  },
  {"width": 82, "height": 1, "data": {"values": []}, "mark": {"type": "point", "opacity": 0}},
  {
    "width": 182, "height": 137,
    "data": {"name": "prop"},
    "title": {"text": ["(g)\u00a0\u00a0\u00a0 Proportion\u00a0\u00a0\u00a0 of\u00a0\u00a0\u00a0 d-", "ifferent\u00a0\u00a0\u00a0 routing\u00a0\u00a0\u00a0 paths", "(FN=100)"], "dx": -56, "offset": 15},
    "encoding": {
      "x": {"field": "sol", "type": "nominal", "sort": ["WiRo", "OFS", "RUSH", "Basic"], "title": "Solution", "scale": {"paddingInner": 0.2, "paddingOuter": 0.1}, "axis": {"labelAngle": 0, "ticks": false, "tickSize": 0, "labelPadding": 4, "labelFontSize": 10, "titleFontSize": 11.5, "titlePadding": 5}},
      "xOffset": {"field": "t", "type": "nominal", "sort": ["Hybrid Path", "Wired-Only Path"]}
    },
    "layer": [
      {"mark": {"type": "bar", "stroke": "#555", "strokeWidth": 1.5},
       "encoding": {
         "y": {"field": "v", "type": "quantitative", "title": ["Proportion of Hybrid Path and", "Wired-only Path (%)"], "scale": {"domain": [0, 120], "nice": false}, "axis": {"values": [0, 25, 50, 75, 100], "labelOverlap": false, "titleFontSize": 10.5}},
         "color": {"field": "t", "type": "nominal", "scale": {"domain": ["Hybrid Path", "Wired-Only Path"], "range": [{"expr": "gO2"}, {"expr": "gR2"}]},
           "legend": {"title": null, "orient": "none", "legendX": 2, "legendY": -1, "padding": 2, "strokeColor": "#000", "fillColor": "#fff", "symbolType": "M-3.1,-1H3.1V1H-3.1Z", "symbolSize": 70, "symbolOffset": 9, "labelOffset": 20, "labelFontSize": 11, "symbolStrokeColor": "#333", "symbolStrokeWidth": 1, "rowPadding": 2.5, "symbolOpacity": 1}}
       }},
      {"mark": {"type": "rule", "color": "#000", "strokeWidth": 1}, "encoding": {"y": {"field": "lo", "type": "quantitative", "title": ["Proportion of Hybrid Path and", "Wired-only Path (%)"], "axis": {"values": [0, 25, 50, 75, 100], "labelOverlap": false, "titleFontSize": 10.5}}, "y2": {"field": "hi"}}},
      {"mark": {"type": "tick", "color": "#000", "thickness": 1, "size": 8}, "encoding": {"y": {"field": "lo", "type": "quantitative", "title": ["Proportion of Hybrid Path and", "Wired-only Path (%)"], "axis": {"values": [0, 25, 50, 75, 100], "labelOverlap": false, "titleFontSize": 10.5}}}},
      {"mark": {"type": "tick", "color": "#000", "thickness": 1, "size": 8}, "encoding": {"y": {"field": "hi", "type": "quantitative", "title": ["Proportion of Hybrid Path and", "Wired-only Path (%)"], "axis": {"values": [0, 25, 50, 75, 100], "labelOverlap": false, "titleFontSize": 10.5}}}}
    ]
  },
  {"width": 73, "height": 1, "data": {"values": []}, "mark": {"type": "point", "opacity": 0}},
  {
    "width": 184, "height": 138,
    "data": {"name": "links"},
    "title": {"text": ["(h)\u00a0\u00a0 Number\u00a0\u00a0 of\u00a0\u00a0 active", "wireless links (FN=100)"], "dx": -52, "offset": 14},
    "mark": {"type": "bar", "fill": {"expr": "gO2"}, "stroke": "#555", "strokeWidth": 2},
    "encoding": {
      "x": {"field": "sol", "type": "nominal", "sort": ["WiRo", "OFS", "RUSH", "Basic"], "title": "Solution", "scale": {"paddingInner": 0.49, "paddingOuter": 0.12}, "axis": {"labelAngle": 0, "ticks": false, "tickSize": 0, "labelPadding": 4, "labelFontSize": 10, "titleFontSize": 11.5, "titlePadding": 5}},
      "y": {"field": "v", "type": "quantitative", "title": "Number of Active Wireless Links", "scale": {"domain": [0, 24.35], "nice": false}, "axis": {"values": [0, 6, 12, 18, 24], "titleFontSize": 9.5}}
    }
  }
  ]
 }
]
}
